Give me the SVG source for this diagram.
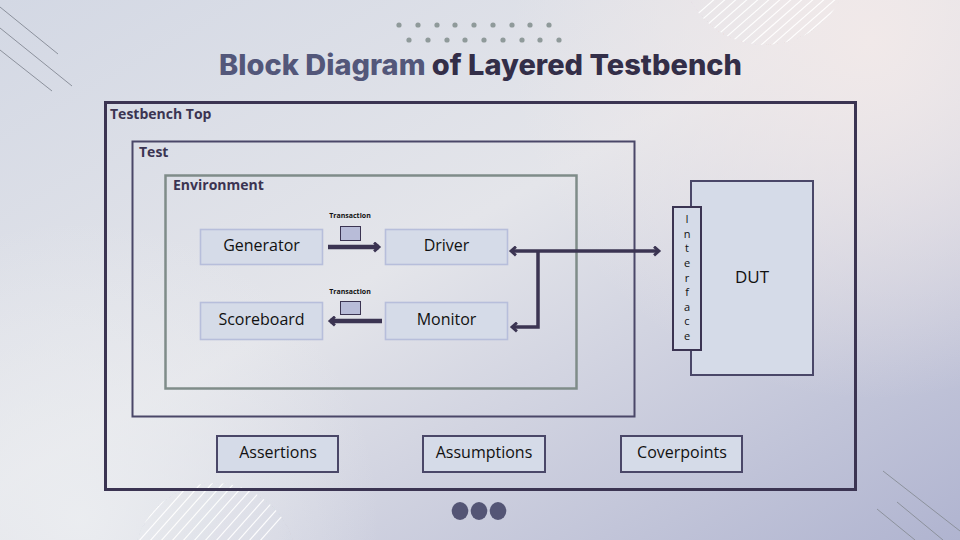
<svg xmlns="http://www.w3.org/2000/svg" width="960" height="540" viewBox="0 0 960 540">
<defs>
  <linearGradient id="bg" x1="0" y1="0" x2="1" y2="1">
    <stop offset="0" stop-color="#d3d8e4"/>
    <stop offset="0.45" stop-color="#e4e5ea"/>
    <stop offset="1" stop-color="#b0b4d0"/>
  </linearGradient>
  <radialGradient id="warm" cx="870" cy="40" r="360" gradientUnits="userSpaceOnUse">
    <stop offset="0" stop-color="#f1e9e9" stop-opacity="1"/>
    <stop offset="1" stop-color="#f1e9e9" stop-opacity="0"/>
  </radialGradient>
  <radialGradient id="lightbl" cx="80" cy="520" r="300" gradientUnits="userSpaceOnUse">
    <stop offset="0" stop-color="#eceef1" stop-opacity="0.9"/>
    <stop offset="1" stop-color="#eceef1" stop-opacity="0"/>
  </radialGradient>
  <clipPath id="hatchTR"><circle cx="765" cy="-40" r="85"/></clipPath>
  <clipPath id="hatchBL"><circle cx="215" cy="565" r="82"/></clipPath>
  <marker id="chev" viewBox="0 0 10 10" refX="7" refY="5" markerWidth="11" markerHeight="11" markerUnits="userSpaceOnUse" orient="auto-start-reverse">
    <path d="M2.5,1 L7,5 L2.5,9" fill="none" stroke="#3b3452" stroke-width="2.6" stroke-linejoin="miter"/>
  </marker>
  <style>
    .lbl{font-family:"Open Sans","Noto Sans","Liberation Sans",sans-serif;font-weight:700;font-size:14px;fill:#3b3452}
    .blk{fill:#d5dbe8;stroke:#b7bedb;stroke-width:1.6}
    .blk2{fill:#d5dbe8;stroke:#4a4768;stroke-width:2}
    .t{font-family:"Open Sans","Noto Sans","Liberation Sans",sans-serif;font-size:16px;fill:#111111;text-anchor:middle;dominant-baseline:central}
    .tr{font-family:"Open Sans","Noto Sans","Liberation Sans",sans-serif;font-weight:700;font-size:7px;fill:#111111;text-anchor:middle}
    .tok{fill:#b8bcd8;stroke:#3b3452;stroke-width:1}
    .ifc{font-family:"Open Sans","Noto Sans","Liberation Sans",sans-serif;font-size:11px;fill:#111111;text-anchor:middle;dominant-baseline:central}
    .conn{fill:none;stroke:#3b3452}
    .deco{stroke:#8c919c;stroke-width:1}
    .hatch{stroke:#ffffff;stroke-width:1.2;opacity:0.9}
    .dot{fill:#8f9a9a}
  </style>
</defs>

<!-- background -->
<rect width="960" height="540" fill="url(#bg)"/>
<rect width="960" height="540" fill="url(#warm)"/>
<rect width="960" height="540" fill="url(#lightbl)"/>

<!-- decorations -->
<g id="deco">
  <line class="deco" x1="0" y1="7" x2="58" y2="54"/>
  <line class="deco" x1="0" y1="28" x2="72" y2="86"/>
  <line class="deco" x1="0" y1="50" x2="52" y2="91"/>
  <line class="deco" x1="883" y1="471" x2="960" y2="531"/>
  <line class="deco" x1="897" y1="502" x2="943" y2="540"/>
  <line class="deco" x1="877" y1="509" x2="915" y2="540"/>
  <g clip-path="url(#hatchTR)">
    <line class="hatch" x1="645" y1="60" x2="725" y2="-10"/>
    <line class="hatch" x1="656" y1="60" x2="736" y2="-10"/>
    <line class="hatch" x1="667" y1="60" x2="747" y2="-10"/>
    <line class="hatch" x1="678" y1="60" x2="758" y2="-10"/>
    <line class="hatch" x1="689" y1="60" x2="769" y2="-10"/>
    <line class="hatch" x1="700" y1="60" x2="780" y2="-10"/>
    <line class="hatch" x1="711" y1="60" x2="791" y2="-10"/>
    <line class="hatch" x1="722" y1="60" x2="802" y2="-10"/>
    <line class="hatch" x1="733" y1="60" x2="813" y2="-10"/>
    <line class="hatch" x1="744" y1="60" x2="824" y2="-10"/>
    <line class="hatch" x1="755" y1="60" x2="835" y2="-10"/>
    <line class="hatch" x1="766" y1="60" x2="846" y2="-10"/>
    <line class="hatch" x1="777" y1="60" x2="857" y2="-10"/>
  </g>
  <g clip-path="url(#hatchBL)">
    <line class="hatch" x1="100" y1="560" x2="180" y2="470"/>
    <line class="hatch" x1="111" y1="560" x2="191" y2="470"/>
    <line class="hatch" x1="122" y1="560" x2="202" y2="470"/>
    <line class="hatch" x1="133" y1="560" x2="213" y2="470"/>
    <line class="hatch" x1="144" y1="560" x2="224" y2="470"/>
    <line class="hatch" x1="155" y1="560" x2="235" y2="470"/>
    <line class="hatch" x1="166" y1="560" x2="246" y2="470"/>
    <line class="hatch" x1="177" y1="560" x2="257" y2="470"/>
    <line class="hatch" x1="188" y1="560" x2="268" y2="470"/>
    <line class="hatch" x1="199" y1="560" x2="279" y2="470"/>
    <line class="hatch" x1="210" y1="560" x2="290" y2="470"/>
    <line class="hatch" x1="221" y1="560" x2="301" y2="470"/>
    <line class="hatch" x1="232" y1="560" x2="312" y2="470"/>
    <line class="hatch" x1="243" y1="560" x2="323" y2="470"/>
  </g>
  <g>
    <circle class="dot" cx="399" cy="25" r="2.6"/><circle class="dot" cx="418" cy="25" r="2.6"/>
    <circle class="dot" cx="437" cy="25" r="2.6"/><circle class="dot" cx="455" cy="25" r="2.6"/>
    <circle class="dot" cx="474" cy="25" r="2.6"/><circle class="dot" cx="493" cy="25" r="2.6"/>
    <circle class="dot" cx="512" cy="25" r="2.6"/><circle class="dot" cx="530" cy="25" r="2.6"/>
    <circle class="dot" cx="549" cy="25" r="2.6"/>
    <circle class="dot" cx="409" cy="40" r="2.6"/><circle class="dot" cx="428" cy="40" r="2.6"/>
    <circle class="dot" cx="447" cy="40" r="2.6"/><circle class="dot" cx="465" cy="40" r="2.6"/>
    <circle class="dot" cx="484" cy="40" r="2.6"/><circle class="dot" cx="503" cy="40" r="2.6"/>
    <circle class="dot" cx="522" cy="40" r="2.6"/><circle class="dot" cx="540" cy="40" r="2.6"/>
    <circle class="dot" cx="559" cy="40" r="2.6"/>
  </g>
  <g fill="#545575">
    <ellipse cx="460" cy="511" rx="8.3" ry="9"/>
    <ellipse cx="479" cy="511" rx="8.3" ry="9"/>
    <ellipse cx="498" cy="511" rx="8.3" ry="9"/>
  </g>
</g>

<!-- title -->
<text x="219" y="75" font-family="Inter,Lato,'Open Sans',sans-serif" font-weight="800" font-size="28" fill="#332e48" textLength="523" lengthAdjust="spacingAndGlyphs"><tspan fill="#53577a">Block Diagram</tspan> of Layered Testbench</text>

<!-- containers -->
<g id="testbench-top">
  <rect x="105.5" y="102.5" width="750" height="387" fill="none" stroke="#3b3452" stroke-width="3"/>
  <text class="lbl" x="110" y="119">Testbench Top</text>
</g>
<g id="test">
  <rect x="132.5" y="141.5" width="502" height="275" fill="none" stroke="#4a4768" stroke-width="2"/>
  <text class="lbl" x="139" y="157">Test</text>
</g>
<g id="environment">
  <rect x="165.5" y="175.5" width="411" height="213" fill="none" stroke="#7f8c89" stroke-width="2.5"/>
  <text class="lbl" x="173" y="190">Environment</text>
</g>

<!-- nodes -->
<g id="generator">
  <rect class="blk" x="200.5" y="229.5" width="122" height="35"/>
  <text class="t" x="261.5" y="245">Generator</text>
</g>
<g id="driver">
  <rect class="blk" x="385.5" y="229.5" width="122" height="35"/>
  <text class="t" x="446.5" y="245">Driver</text>
</g>
<g id="scoreboard">
  <rect class="blk" x="200.5" y="302.5" width="122" height="37"/>
  <text class="t" x="261.5" y="319">Scoreboard</text>
</g>
<g id="monitor">
  <rect class="blk" x="385.5" y="302.5" width="122" height="37"/>
  <text class="t" x="446.5" y="319">Monitor</text>
</g>
<g id="transaction-1">
  <text class="tr" x="350" y="218">Transaction</text>
  <rect class="tok" x="340.5" y="226.5" width="20" height="14"/>
</g>
<g id="transaction-2">
  <text class="tr" x="350" y="294">Transaction</text>
  <rect class="tok" x="340.5" y="301.5" width="20" height="13"/>
</g>
<g id="dut">
  <rect x="691" y="181" width="122" height="194" fill="#d5dbe8" stroke="#4a4768" stroke-width="2"/>
  <text class="t" x="752" y="276" style="font-size:17px">DUT</text>
</g>
<g id="interface">
  <rect x="673" y="207" width="28" height="143" fill="#d5dbe8" stroke="#3b3452" stroke-width="2"/>
  <text class="ifc" x="687" y="218">I</text>
  <text class="ifc" x="687" y="233">n</text>
  <text class="ifc" x="687" y="247">t</text>
  <text class="ifc" x="687" y="262">e</text>
  <text class="ifc" x="687" y="277">r</text>
  <text class="ifc" x="687" y="291">f</text>
  <text class="ifc" x="687" y="306">a</text>
  <text class="ifc" x="687" y="320">c</text>
  <text class="ifc" x="687" y="335">e</text>
</g>
<g id="assertions">
  <rect class="blk2" x="217" y="436" width="121" height="36"/>
  <text class="t" x="278" y="452">Assertions</text>
</g>
<g id="assumptions">
  <rect class="blk2" x="423" y="436" width="122" height="36"/>
  <text class="t" x="484" y="452">Assumptions</text>
</g>
<g id="coverpoints">
  <rect class="blk2" x="621" y="436" width="121" height="36"/>
  <text class="t" x="682" y="452">Coverpoints</text>
</g>

<!-- connectors -->
<g id="connectors">
  <path class="conn" d="M328,247 H379" stroke-width="4.5" marker-end="url(#chev)"/>
  <path class="conn" d="M382,321 H330" stroke-width="4.5" marker-end="url(#chev)"/>
  <path class="conn" d="M511,251 H659" stroke-width="3.5" marker-start="url(#chev)" marker-end="url(#chev)"/>
  <path class="conn" d="M538,251 V327 H512" stroke-width="3.5" marker-end="url(#chev)"/>
</g>
</svg>
